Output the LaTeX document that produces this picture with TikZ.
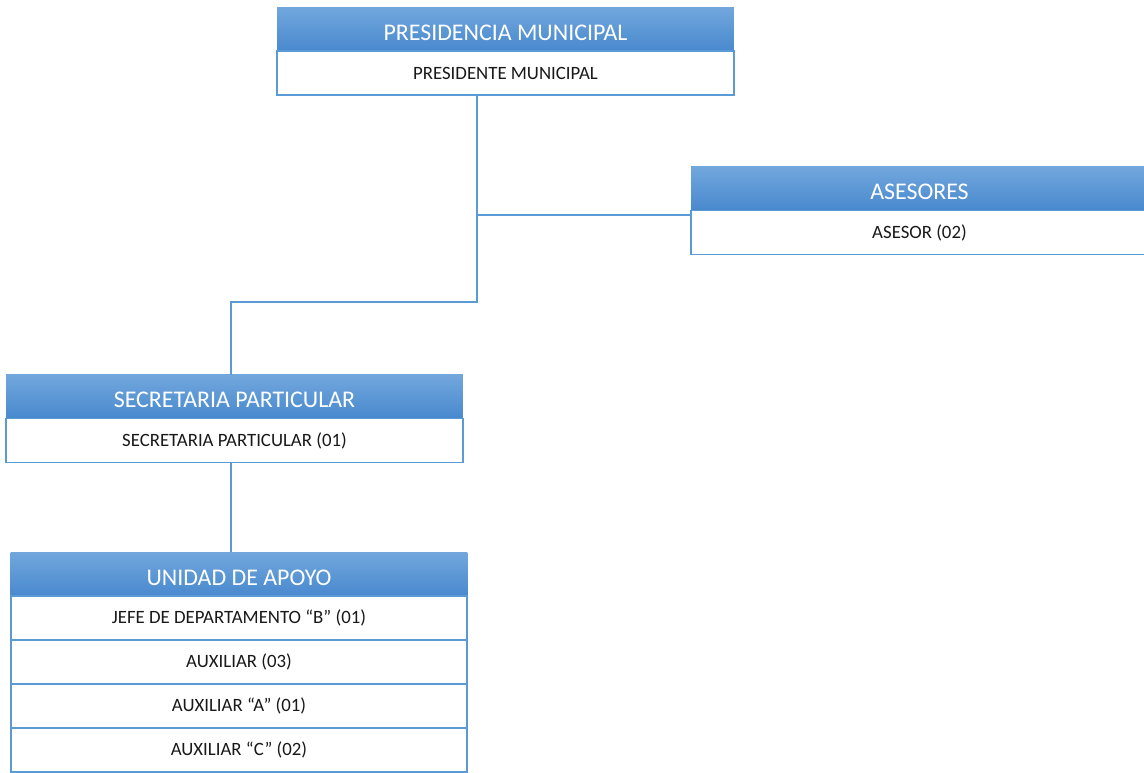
\documentclass[tikz,border=0pt]{standalone}
\usepackage{fontspec}
\setmainfont{Carlito}
\usepackage{tikz}
\usetikzlibrary{positioning}

\definecolor{hdtop}{RGB}{114,167,221}
\definecolor{hdmid}{RGB}{88,153,220}
\definecolor{hdbot}{RGB}{72,137,206}
\definecolor{boxline}{RGB}{91,155,213}

\begin{document}
\begin{tikzpicture}[x=0.02cm, y=-0.02cm,
    head/.style={minimum width=9.14cm, minimum height=0.88cm, inner sep=0pt, outer sep=0pt,
      top color=hdtop, middle color=hdmid, bottom color=hdbot, text=white,
      text height=12.6pt, text depth=0pt, font=\fontsize{13.6}{15}\selectfont},
    post/.style={draw=boxline, line width=1.1pt, fill=white, minimum width=9.14cm,
      minimum height=0.88cm, inner sep=0pt, outer sep=0pt, text=black!90,
      font=\fontsize{10.7}{12}\selectfont},
    link/.style={draw=boxline, line width=0.6pt}]

    \useasboundingbox (0,0) rectangle (1144,772);

    \node[head]              (pres)    at (505.5, 29)    {PRESIDENCIA MUNICIPAL};
    \node[post, below=0pt of pres] (presbody)          {PRESIDENTE MUNICIPAL};

    \node[head]              (ase)     at (919.5, 188.5) {ASESORES};
    \node[post, below=0pt of ase]  (asebody)           {ASESOR (02)};

    \node[head]              (sec)     at (234.5, 396.5) {SECRETARIA PARTICULAR};
    \node[post, below=0pt of sec]  (secbody)           {SECRETARIA PARTICULAR (01)};

    \node[head]              (uni)     at (239, 574)     {UNIDAD DE APOYO};
    \node[post, below=0pt of uni]  (uni1)              {JEFE DE DEPARTAMENTO “B” (01)};
    \node[post, below=0pt of uni1] (uni2)              {AUXILIAR (03)};
    \node[post, below=0pt of uni2] (uni3)              {AUXILIAR “A” (01)};
    \node[post, below=0pt of uni3] (uni4)              {AUXILIAR “C” (02)};

    \coordinate (ja) at (477, 215);
    \coordinate (js) at (477, 302);

    \draw[link] (presbody.south -| js) -- (js) -| (sec.north -| 231, 0);
    \draw[link] (ja) -- (ase.west |- ja);
    \draw[link] (secbody.south -| 231, 0) -- (uni.north -| 231, 0);
  \end{tikzpicture}
\end{document}
